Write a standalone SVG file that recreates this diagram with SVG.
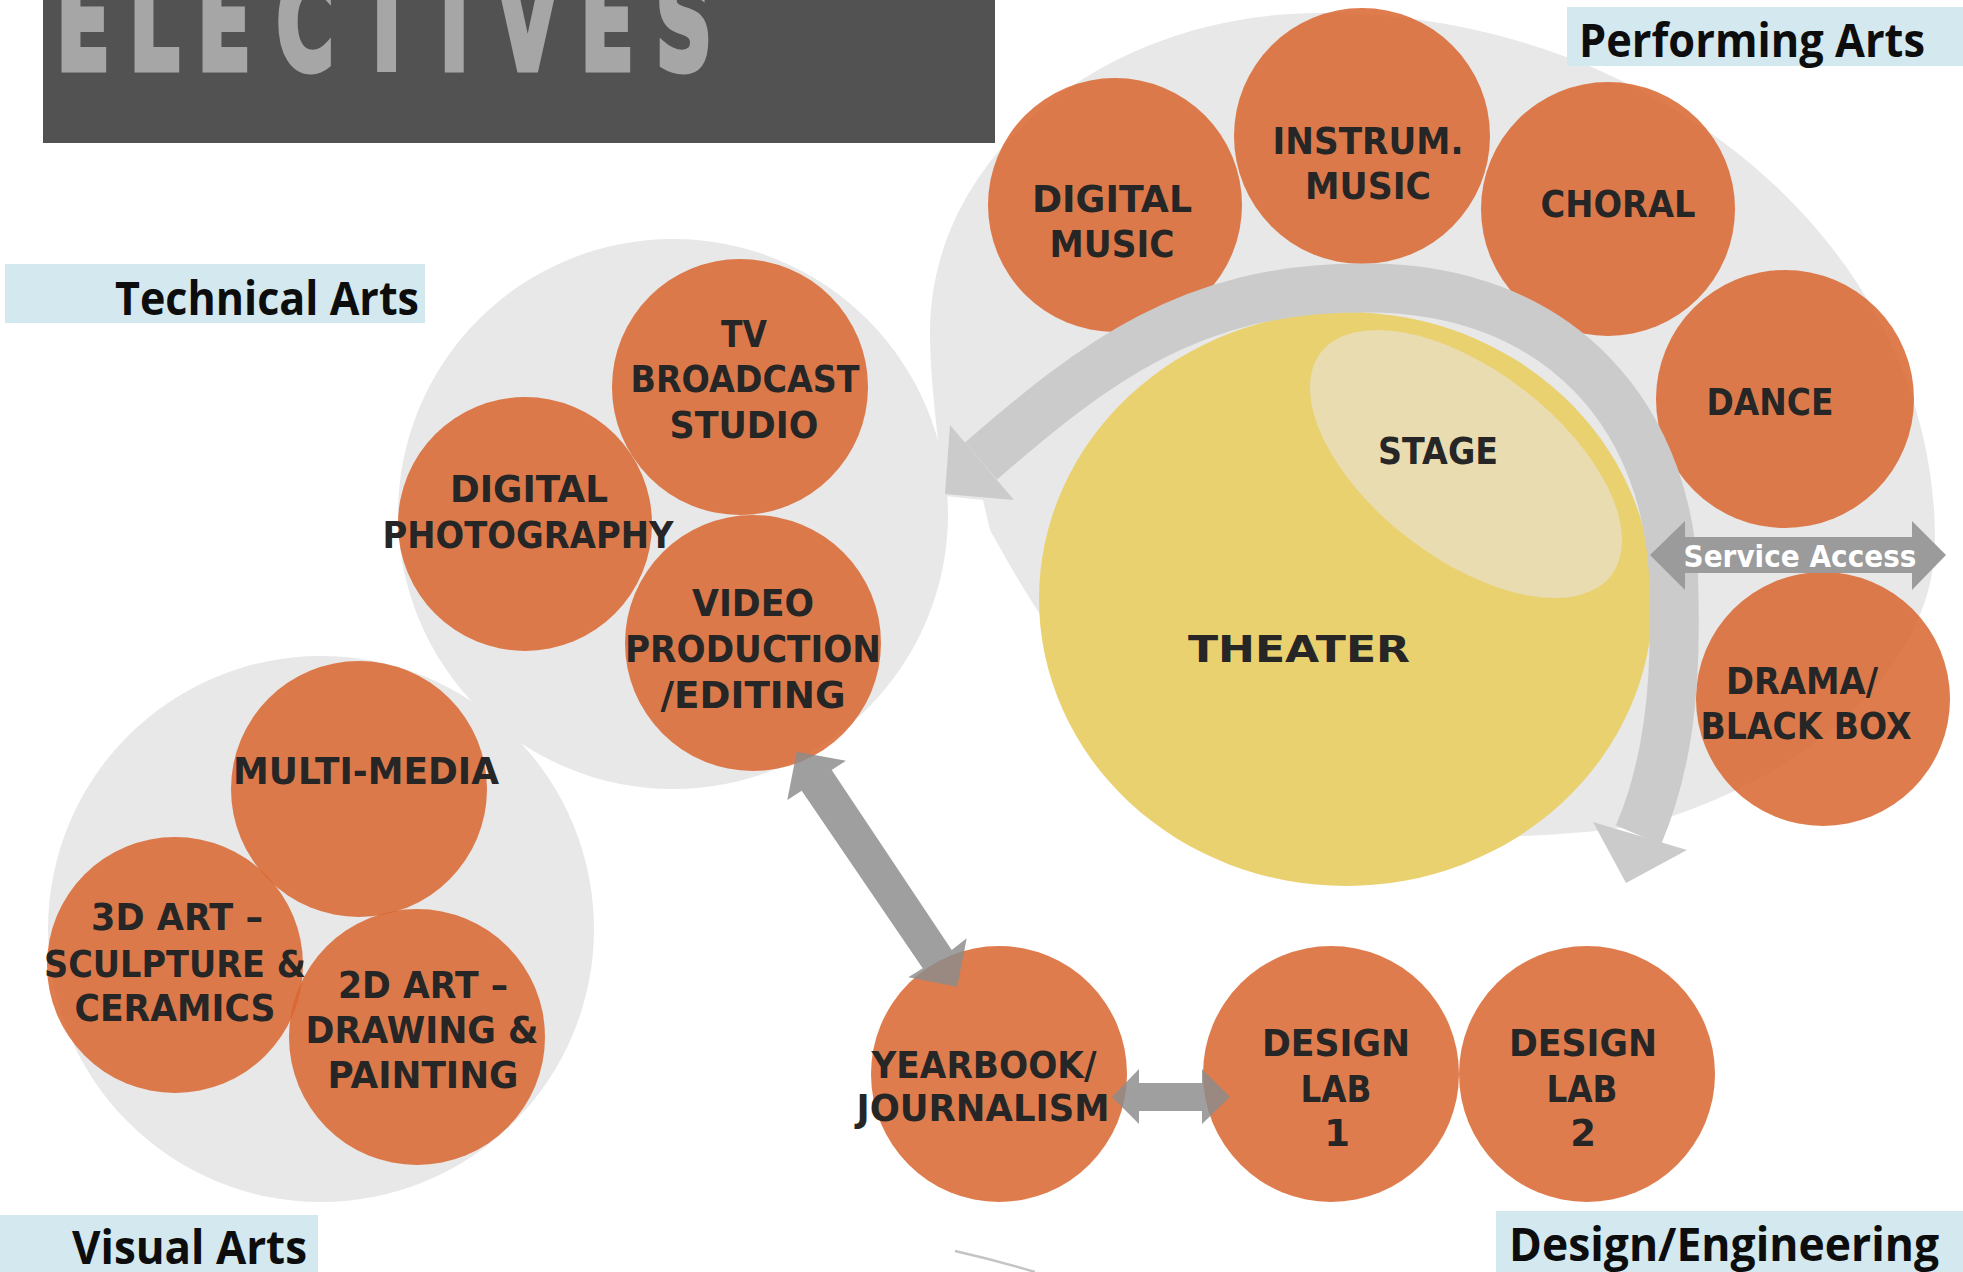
<svg xmlns="http://www.w3.org/2000/svg" width="1963" height="1272" viewBox="0 0 1963 1272">
<style>
.blob{fill:#e8e8e8}
.node{fill:#d9652e;fill-opacity:0.85}
.lbl{font-family:'DejaVu Sans',Verdana,sans-serif;font-weight:bold;font-size:37px;fill:#262626;text-anchor:middle}
.grp{font-family:'Open Sans','Noto Sans',sans-serif;font-weight:bold;font-size:46px;fill:#0d0d0d}
.tag{fill:#d3e8ef}
.band{fill:none;stroke:#cbcbcb;stroke-width:49}
.bandhead{fill:#cbcbcb}
.conn{fill:#8b8b8b;fill-opacity:0.83}
</style>
<rect width="1963" height="1272" fill="#ffffff"/>

<!-- title -->
<g id="title">
<rect x="43" y="-5" width="952" height="148" fill="#525252"/>
<text transform="scale(0.6,1)" x="94 216 329 461 600 733 829 967.5 1093" y="69" font-family="'DejaVu Sans',sans-serif" font-weight="bold" font-size="130" fill="#a6a6a6" stroke="#a6a6a6" stroke-width="7" stroke-linejoin="miter">ELECTIVES</text>
</g>

<!-- zone backgrounds -->
<g id="zones">
<path class="blob" d="M 945,496 C 938,440 930,380 930,332 C 930,156 1105,13 1320,13 C 1660,13 1935,249 1935,540 C 1935,660 1820,770 1660,820 C 1560,845 1330,845 1220,800 C 1120,740 1050,640 990,530 L 983,500 Z"/>
<circle class="blob" cx="673" cy="514" r="275"/>
<circle class="blob" cx="321" cy="929" r="273"/>
<path d="M 955,1251 Q 995,1260 1035,1272" fill="none" stroke="#c4c4c4" stroke-width="2.5"/>
</g>

<!-- Performing arts nodes -->
<g id="digital-music"><circle class="node" cx="1115" cy="205" r="127"/>
<text class="lbl" x="1112" y="212" textLength="160" lengthAdjust="spacingAndGlyphs">DIGITAL</text>
<text class="lbl" x="1112" y="257" textLength="125" lengthAdjust="spacingAndGlyphs">MUSIC</text></g>
<g id="instrum-music"><circle class="node" cx="1362" cy="136" r="128"/>
<text class="lbl" x="1368" y="154" textLength="191" lengthAdjust="spacingAndGlyphs">INSTRUM.</text>
<text class="lbl" x="1368" y="199" textLength="126" lengthAdjust="spacingAndGlyphs">MUSIC</text></g>
<g id="choral"><circle class="node" cx="1608" cy="209" r="127"/>
<text class="lbl" x="1618" y="217" textLength="155" lengthAdjust="spacingAndGlyphs">CHORAL</text></g>
<g id="dance"><circle class="node" cx="1785" cy="399" r="129"/>
<text class="lbl" x="1770" y="415" textLength="127" lengthAdjust="spacingAndGlyphs">DANCE</text></g>
<g id="drama"><circle class="node" cx="1823" cy="699" r="127"/>
<text class="lbl" x="1802" y="694" textLength="152" lengthAdjust="spacingAndGlyphs">DRAMA/</text>
<text class="lbl" x="1806" y="739" textLength="211" lengthAdjust="spacingAndGlyphs">BLACK BOX</text></g>

<!-- theater -->
<g id="theater">
<ellipse cx="1346" cy="599" rx="307" ry="287" fill="#e9d170"/>
<text class="lbl" x="1299" y="662" font-size="50" textLength="222" lengthAdjust="spacingAndGlyphs">THEATER</text>
</g>
<g id="stage">
<ellipse cx="1466" cy="464" rx="183" ry="94" transform="rotate(37.5 1466 464)" fill="#e9dcb0"/>
<text class="lbl" x="1438" y="464" font-size="38" fill="#404040" textLength="120" lengthAdjust="spacingAndGlyphs">STAGE</text>
</g>

<!-- Technical arts nodes -->
<g id="tv-broadcast"><circle class="node" cx="740" cy="387" r="128"/>
<text class="lbl" x="744" y="347" textLength="46" lengthAdjust="spacingAndGlyphs">TV</text>
<text class="lbl" x="745" y="392" textLength="229" lengthAdjust="spacingAndGlyphs">BROADCAST</text>
<text class="lbl" x="744" y="438" textLength="149" lengthAdjust="spacingAndGlyphs">STUDIO</text></g>
<g id="digital-photo"><circle class="node" cx="525" cy="524" r="127"/>
<text class="lbl" x="529" y="502" textLength="158" lengthAdjust="spacingAndGlyphs">DIGITAL</text>
<text class="lbl" x="528" y="548" textLength="291" lengthAdjust="spacingAndGlyphs">PHOTOGRAPHY</text></g>
<g id="video"><circle class="node" cx="753" cy="643" r="128"/>
<text class="lbl" x="753" y="616" textLength="122" lengthAdjust="spacingAndGlyphs">VIDEO</text>
<text class="lbl" x="753" y="662" textLength="256" lengthAdjust="spacingAndGlyphs">PRODUCTION</text>
<text class="lbl" x="753" y="708" textLength="185" lengthAdjust="spacingAndGlyphs">/EDITING</text></g>

<!-- Visual arts nodes -->
<g id="multi-media"><circle class="node" cx="359" cy="789" r="128"/>
<text class="lbl" x="366" y="784" textLength="266" lengthAdjust="spacingAndGlyphs">MULTI-MEDIA</text></g>
<g id="art-3d"><circle class="node" cx="175" cy="965" r="128"/>
<text class="lbl" x="177" y="930" textLength="172" lengthAdjust="spacingAndGlyphs">3D ART –</text>
<text class="lbl" x="175" y="977" textLength="262" lengthAdjust="spacingAndGlyphs">SCULPTURE &amp;</text>
<text class="lbl" x="175" y="1021" textLength="201" lengthAdjust="spacingAndGlyphs">CERAMICS</text></g>
<g id="art-2d"><circle class="node" cx="417" cy="1037" r="128"/>
<text class="lbl" x="423" y="998" textLength="170" lengthAdjust="spacingAndGlyphs">2D ART –</text>
<text class="lbl" x="422" y="1043" textLength="233" lengthAdjust="spacingAndGlyphs">DRAWING &amp;</text>
<text class="lbl" x="423" y="1088" textLength="191" lengthAdjust="spacingAndGlyphs">PAINTING</text></g>

<!-- Design / engineering nodes -->
<g id="yearbook"><circle class="node" cx="999" cy="1074" r="128"/>
<text class="lbl" x="984" y="1078" textLength="225" lengthAdjust="spacingAndGlyphs">YEARBOOK/</text>
<text class="lbl" x="983" y="1121" textLength="253" lengthAdjust="spacingAndGlyphs">JOURNALISM</text></g>
<g id="design-lab-1"><circle class="node" cx="1331" cy="1074" r="128"/>
<text class="lbl" x="1336" y="1056" textLength="148" lengthAdjust="spacingAndGlyphs">DESIGN</text>
<text class="lbl" x="1336" y="1102" textLength="71" lengthAdjust="spacingAndGlyphs">LAB</text>
<text class="lbl" x="1337" y="1146">1</text></g>
<g id="design-lab-2"><circle class="node" cx="1587" cy="1074" r="128"/>
<text class="lbl" x="1583" y="1056" textLength="148" lengthAdjust="spacingAndGlyphs">DESIGN</text>
<text class="lbl" x="1582" y="1102" textLength="71" lengthAdjust="spacingAndGlyphs">LAB</text>
<text class="lbl" x="1583" y="1146">2</text></g>

<!-- connectors -->
<g id="connectors">
<path class="band" d="M 981,461 C 1094,363 1191,288 1361,288 C 1560,285 1676,420 1674,600 C 1676,690 1668,765 1638.5,835"/>
<polygon class="bandhead" points="950,425 945,494 1014,500"/>
<polygon class="bandhead" points="1593,822 1626,883 1687,850"/>
<polygon fill="#9b9b9b" points="1650,555 1685,521 1685,537 1912,537 1912,521 1946,555 1912,590 1912,573 1685,573 1685,590"/>
<text x="1800" y="567" text-anchor="middle" font-family="'DejaVu Sans',Verdana,sans-serif" font-weight="bold" font-size="30" fill="#ffffff" textLength="233" lengthAdjust="spacingAndGlyphs">Service Access</text>
<polygon class="conn" points="796.7,751.7 846,760.7 831.7,770 951.7,950 966.7,938.3 957.3,986.7 908.3,977.3 922.7,968.3 801.7,790.7 787.3,800"/>
<polygon class="conn" points="1112,1097 1139,1069 1139,1083 1202,1083 1202,1069 1230,1097 1202,1124 1202,1111 1139,1111 1139,1124"/>
</g>

<!-- group labels -->
<g id="label-performing"><rect class="tag" x="1567" y="7" width="396" height="59"/>
<text class="grp" x="1579" y="57" textLength="346" lengthAdjust="spacingAndGlyphs">Performing Arts</text></g>
<g id="label-technical"><rect class="tag" x="5" y="264" width="420" height="59"/>
<text class="grp" x="115" y="315" textLength="304" lengthAdjust="spacingAndGlyphs">Technical Arts</text></g>
<g id="label-visual"><rect class="tag" x="0" y="1215" width="318" height="57"/>
<text class="grp" x="72" y="1264" textLength="235" lengthAdjust="spacingAndGlyphs">Visual Arts</text></g>
<g id="label-design"><rect class="tag" x="1496" y="1211" width="467" height="61"/>
<text class="grp" x="1509" y="1261" textLength="430" lengthAdjust="spacingAndGlyphs">Design/Engineering</text></g>
</svg>
